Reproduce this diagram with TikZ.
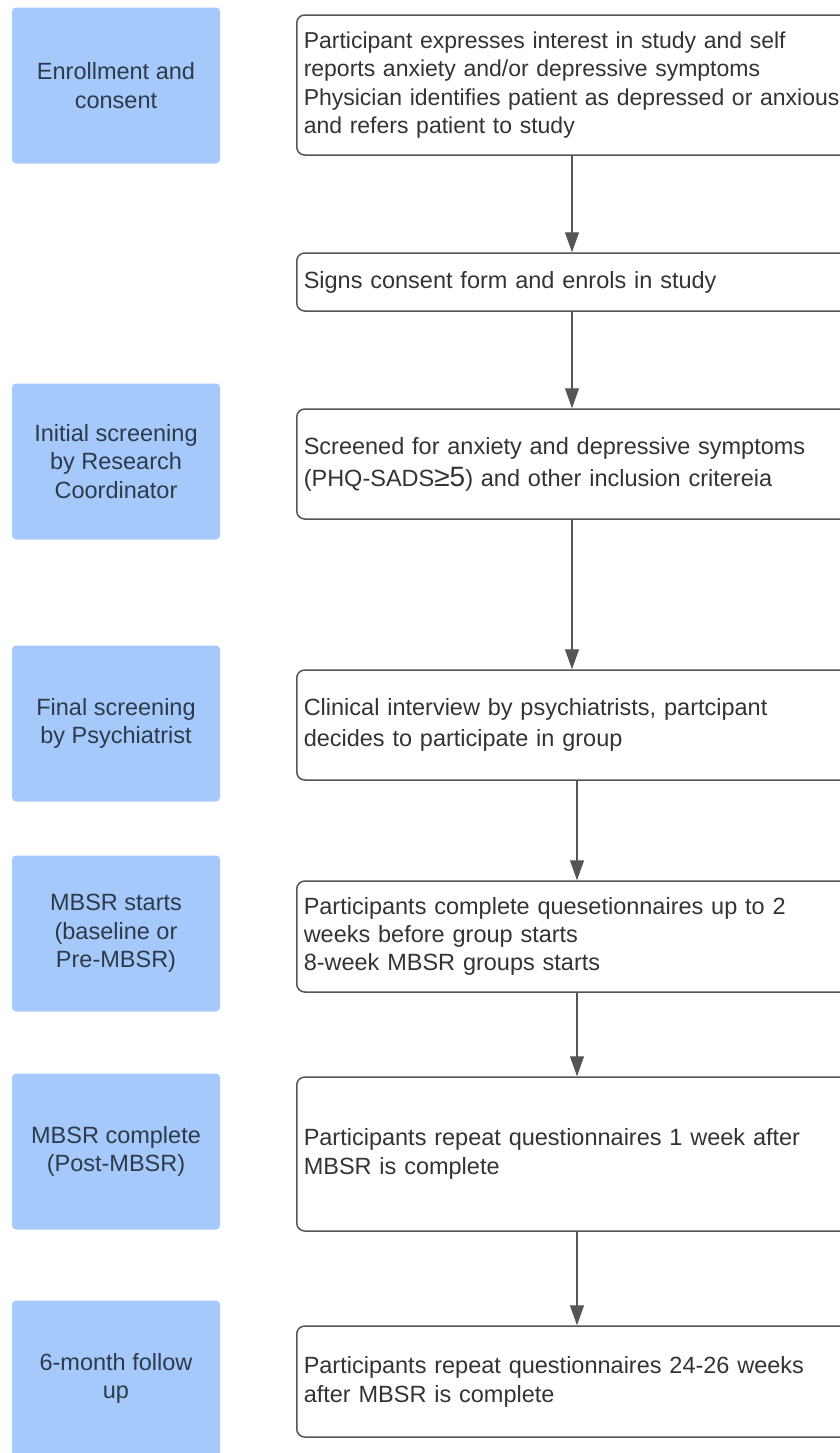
\documentclass[tikz,border=0pt]{standalone}
\usepackage{fontspec}
\setmainfont{Liberation Sans}
\usetikzlibrary{arrows.meta, positioning}
\definecolor{phaseblue}{RGB}{164,201,250}
\definecolor{phasetext}{RGB}{45,58,75}
\definecolor{boxline}{RGB}{85,85,85}
\definecolor{steptext}{RGB}{51,51,51}

\begin{document}
\begin{tikzpicture}[x=0.5pt, y=-0.5pt,
    phase/.style={fill=phaseblue, rounded corners=2pt, minimum width=104pt, minimum height=78pt,
      inner sep=0pt, align=center, text=phasetext, font=\fontsize{11.75}{14.2}\selectfont},
    stepbox/.style={draw=boxline, line width=0.75pt, rounded corners=4pt, anchor=west,
      inner xsep=3.5pt, inner ysep=0pt, text width=290pt, align=left, text=steptext,
      font=\fontsize{11.75}{14.5}\selectfont},
    flow/.style={draw=boxline, line width=0.6pt, -{Triangle[length=10pt, width=7pt]}}]
    \useasboundingbox (0,0) rectangle (840,1453);
    \clip (0,0) rectangle (840,1453);

    % phases on the left
    \node[phase] (enrol) at (116,85.5) {Enrollment and\\consent};
    \node[phase] (initial) at (116,461.5) {Initial screening\\by Research\\Coordinator};
    \node[phase] (final) at (116,723.5) {Final screening\\by Psychiatrist};
    \node[phase] (start) at (116,933.5) {MBSR starts\\(baseline or\\Pre-MBSR)};
    \node[phase] (complete) at (116,1151.5) {MBSR complete\\(Post-MBSR)};
    \node[phase] (follow) at (116,1378.5) {6-month follow\\up};

    % steps on the right
    \node[stepbox, minimum height=70pt, font=\fontsize{11.5}{14.2}\selectfont] (interest) at (296,85) {Participant expresses interest in study and self\\reports anxiety and/or depressive symptoms\\Physician identifies patient as depressed or anxious\\and refers patient to study};
    \node[stepbox, minimum height=29pt] (consent) at (296,282) {Signs consent form and enrols in study};
    \node[stepbox, minimum height=55pt, font=\fontsize{11.75}{16}\selectfont] (screen) at (296,464) {Screened for anxiety and depressive symptoms\\(PHQ-SADS{\fontsize{14}{14}\selectfont ≥5}) and other inclusion critereia};
    \node[stepbox, minimum height=55pt, font=\fontsize{11.75}{15.5}\selectfont] (interview) at (296,725) {Clinical interview by psychiatrists, partcipant\\decides to participate in group};
    \node[stepbox, minimum height=55.5pt, font=\fontsize{11.75}{13.8}\selectfont] (baseline) at (296,936.5) {Participants complete quesetionnaires up to 2\\weeks before group starts\\8-week MBSR groups starts};
    \node[stepbox, minimum height=77pt] (post) at (296,1154) {Participants repeat questionnaires 1 week after\\MBSR is complete};
    \node[stepbox, minimum height=55.5pt] (sixmonth) at (296,1381.5) {Participants repeat questionnaires 24-26 weeks\\after MBSR is complete};

    \coordinate (upper) at (572,0);
    \coordinate (lower) at (577,0);
    \draw[flow] (interest.south -| upper) -- (consent.north -| upper);
    \draw[flow] (consent.south -| upper) -- (screen.north -| upper);
    \draw[flow] (screen.south -| upper) -- (interview.north -| upper);
    \draw[flow] (interview.south -| lower) -- (baseline.north -| lower);
    \draw[flow] (baseline.south -| lower) -- (post.north -| lower);
    \draw[flow] (post.south -| lower) -- (sixmonth.north -| lower);
\end{tikzpicture}
\end{document}
